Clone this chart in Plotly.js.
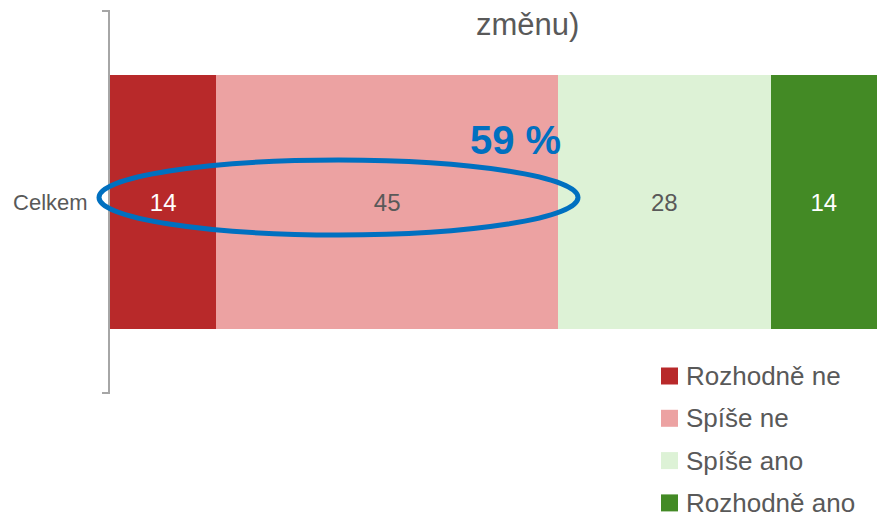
<!DOCTYPE html>
<html>
<head>
<meta charset="utf-8">
<script src="https://cdn.plot.ly/plotly-3.0.1.min.js"></script>
<style>html,body{margin:0;padding:0;background:#fff;}#chart{width:877px;height:517px;}</style>
</head>
<body>
<div id="chart"></div>
<script>
var categories = ["Celkem"];
var seriesNames = ["Rozhodně ne", "Spíše ne", "Spíše ano", "Rozhodně ano"];
var seriesValues = [[14], [45], [28], [14]];
var seriesColors = ["#B8292A", "#ECA2A2", "#DDF2D6", "#438A25"];
var labelColors = ["#FFFFFF", "#595959", "#595959", "#FFFFFF"];
var highlightLabel = "59 %";
var titleText = "změnu)";

var FONT = "'Liberation Sans Narrow', 'Arial Narrow', 'Liberation Sans', Arial, sans-serif";
var GRAY = "#595959";

var traces = seriesNames.map(function (name, i) {
  return {
    type: "bar",
    orientation: "h",
    name: name,
    y: categories,
    x: seriesValues[i],
    width: 0.665,
    marker: { color: seriesColors[i], line: { width: 0 } },
    text: seriesValues[i].map(String),
    textposition: "inside",
    insidetextanchor: "middle",
    textangle: 0,
    textfont: { family: FONT, size: 24, color: labelColors[i] },
    hoverinfo: "skip"
  };
});

var plotW = 767, plotH = 382;
var shapes = [
  { type: "line", xref: "paper", yref: "paper", x0: -8 / plotW, x1: 0, y0: 1, y1: 1, line: { color: "#A6A6A6", width: 2 } },
  { type: "line", xref: "paper", yref: "paper", x0: -8 / plotW, x1: 0, y0: 0, y1: 0, line: { color: "#A6A6A6", width: 2 } },
  { type: "circle", xref: "paper", yref: "paper", x0: -11 / plotW, x1: 468 / plotW, y0: (393 - 235) / plotH, y1: (393 - 160) / plotH, line: { color: "#0070C0", width: 5 }, fillcolor: "rgba(0,0,0,0)" }
];

var annotations = [
  { xref: "paper", yref: "paper", x: (515 - 110) / plotW, y: (393 - 140) / plotH, text: "<b>" + highlightLabel + "</b>", showarrow: false, xanchor: "center", yanchor: "middle", font: { family: FONT, size: 40, color: "#0070C0" } },
  { xref: "paper", yref: "paper", x: (527 - 110) / plotW, y: (393 - 25) / plotH, text: titleText, showarrow: false, xanchor: "center", yanchor: "middle", font: { family: FONT, size: 31, color: GRAY } }
];

var legendTop = 376, legendStep = 42.3;
seriesNames.forEach(function (name, i) {
  var cy = legendTop + i * legendStep;
  shapes.push({ type: "rect", xref: "paper", yref: "paper", x0: (661 - 110) / plotW, x1: (678 - 110) / plotW, y0: (393 - (cy + 8.5)) / plotH, y1: (393 - (cy - 8.5)) / plotH, fillcolor: seriesColors[i], line: { width: 0 } });
  annotations.push({ xref: "paper", yref: "paper", x: (684 - 110) / plotW, y: (393 - cy) / plotH, text: name, showarrow: false, xanchor: "left", yanchor: "middle", font: { family: FONT, size: 26, color: GRAY } });
});

var layout = {
  width: 877, height: 517,
  margin: { l: 110, r: 0, t: 11, b: 124, pad: 0 },
  paper_bgcolor: "#FFFFFF", plot_bgcolor: "#FFFFFF",
  barmode: "stack",
  showlegend: false,
  hovermode: false,
  xaxis: { range: [0, 101], visible: false, fixedrange: true },
  yaxis: {
    range: [-0.5, 0.5], showline: true, linecolor: "#A6A6A6", linewidth: 2, ticks: "",
    showgrid: false, zeroline: false, ticklabelstandoff: 16,
    tickfont: { family: FONT, size: 22, color: GRAY }, fixedrange: true
  },
  shapes: shapes,
  annotations: annotations
};

Plotly.newPlot("chart", traces, layout, { displayModeBar: false, staticPlot: true });
</script>
</body>
</html>
